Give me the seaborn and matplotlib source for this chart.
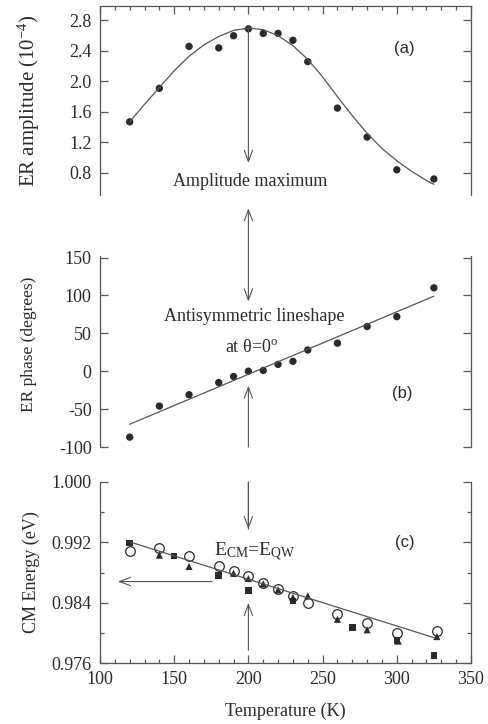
import matplotlib
matplotlib.use("Agg")
import matplotlib.pyplot as plt
from matplotlib.ticker import MultipleLocator
import seaborn as sns

# (a) ER amplitude (1e-4) vs temperature
temp_a = [120, 140, 160, 180, 190, 200, 210, 220, 230, 240, 260, 280, 300, 325]
amp = [1.47, 1.91, 2.46, 2.44, 2.60, 2.69, 2.63, 2.63, 2.54, 2.26, 1.65, 1.27, 0.84, 0.72]
fit_temp_a = [120, 130, 140, 150, 160, 170, 180, 190, 200, 210, 220, 230, 240, 250,
              260, 270, 280, 290, 300, 310, 320, 325]
fit_amp = [1.47, 1.70, 1.92, 2.14, 2.33, 2.48, 2.59, 2.67, 2.70, 2.68, 2.60, 2.47,
           2.29, 2.06, 1.80, 1.55, 1.32, 1.12, 0.96, 0.82, 0.70, 0.65]

# (b) ER phase (degrees)
temp_b = [120, 140, 160, 180, 190, 200, 210, 220, 230, 240, 260, 280, 300, 325]
phase = [-87, -46, -31, -15, -7, 0, 1, 9, 13, 28, 37, 59, 72, 110]
fit_temp_b = [120, 325]
fit_phase = [-70, 99]

# (c) CM energy (eV), three data sets
temp_sq = [120, 150, 180, 200, 230, 270, 300, 325]
energy_sq = [0.9919, 0.9902, 0.9876, 0.9856, 0.9842, 0.9807, 0.9790, 0.9770]
temp_circ = [120, 140, 160, 180, 190, 200, 210, 220, 230, 240, 260, 280, 300, 327]
energy_circ = [0.9908, 0.9913, 0.9902, 0.9889, 0.9882, 0.9875, 0.9866, 0.9858,
               0.9849, 0.9840, 0.9825, 0.9813, 0.9800, 0.9803]
temp_tri = [140, 160, 190, 200, 210, 220, 230, 240, 260, 280, 301, 327]
energy_tri = [0.9903, 0.9888, 0.9879, 0.9872, 0.9865, 0.9857, 0.9847, 0.9849,
              0.9818, 0.9804, 0.9789, 0.9795]
fit_temp_c = [121, 326]
fit_energy = [0.9920, 0.9793]

sns.set_style("ticks")
plt.rcParams['font.family'] = ['Liberation Serif', 'DejaVu Serif']
plt.rcParams['mathtext.fontset'] = 'custom'
plt.rcParams['mathtext.rm'] = 'Liberation Serif'
plt.rcParams['mathtext.it'] = 'Liberation Serif:italic'
plt.rcParams['axes.unicode_minus'] = False

ink = '#2a2a2a'
line_col = '#555555'
W, H = 489, 724

fig = plt.figure(figsize=(4.89, 7.24), dpi=100)


def add_panel(top, bottom):
    # pixel box -> figure fraction
    return fig.add_axes([100 / W, 1 - bottom / H, 371 / W, (bottom - top) / H])


ax_a = add_panel(6, 195)
ax_b = add_panel(256, 447)
ax_c = add_panel(482, 663)

for ax in (ax_a, ax_b, ax_c):
    ax.set_xlim(100, 350)
    ax.xaxis.set_major_locator(MultipleLocator(50))
    ax.xaxis.set_minor_locator(MultipleLocator(10))
    ax.tick_params(which='both', direction='in', left=True, right=True,
                   colors=line_col, labelcolor=ink, labelsize=13, width=0.9)
    ax.tick_params(which='major', length=5.5)
    ax.tick_params(which='minor', length=3)
    ax.tick_params(axis='y', pad=6)
    ax.tick_params(axis='x', pad=5.5)
    for s in ax.spines.values():
        s.set_color(line_col)
        s.set_linewidth(0.9)

# panel (a)
sns.lineplot(x=fit_temp_a, y=fit_amp, ax=ax_a, color=line_col, lw=0.9)
sns.scatterplot(x=temp_a, y=amp, ax=ax_a, color=ink, s=28, edgecolor='none')
ax_a.set_ylim(0.51, 2.99)
ax_a.yaxis.set_major_locator(MultipleLocator(0.4))
ax_a.spines['bottom'].set_visible(False)
ax_a.xaxis.set_ticks_position('top')
ax_a.tick_params(axis='x', which='both', labeltop=False, labelbottom=False)
ax_a.set_ylabel('ER amplitude (10$^{\\mathregular{-4}}$)', fontsize=15, color=ink)
ax_a.yaxis.set_label_coords(-0.157, 0.5)
ax_a.text(305, 2.43, '(a)', family='Liberation Sans', fontsize=12, color=ink,
          ha='center', va='center')
ax_a.text(201, 0.69, 'Amplitude maximum', fontsize=13, color=ink,
          ha='center', va='center')

# panel (b)
sns.lineplot(x=fit_temp_b, y=fit_phase, ax=ax_b, color=line_col, lw=0.9)
sns.scatterplot(x=temp_b, y=phase, ax=ax_b, color=ink, s=28, edgecolor='none')
ax_b.set_ylim(-100, 152)
ax_b.yaxis.set_major_locator(MultipleLocator(50))
ax_b.spines['top'].set_visible(False)
ax_b.spines['bottom'].set_visible(False)
ax_b.tick_params(axis='x', which='both', bottom=False, top=False, labelbottom=False)
ax_b.set_ylabel('ER phase (degrees)', fontsize=12.5, color=ink)
ax_b.yaxis.set_label_coords(-0.17, 0.54)
ax_b.text(304, -29, '(b)', family='Liberation Sans', fontsize=12, color=ink,
          ha='center', va='center')
ax_b.text(204, 72, 'Antisymmetric lineshape', fontsize=13, color=ink,
          ha='center', va='center')
ax_b.text(202, 31, 'at θ=0$^{\\mathregular{o}}$', fontsize=13, color=ink,
          ha='center', va='center')

# panel (c)
sns.lineplot(x=fit_temp_c, y=fit_energy, ax=ax_c, color=line_col, lw=0.9)
sns.scatterplot(x=temp_circ, y=energy_circ, ax=ax_c, marker='o', s=48,
                facecolor='white', edgecolor=ink, linewidth=0.9)
sns.scatterplot(x=temp_tri, y=energy_tri, ax=ax_c, marker='^', s=26,
                color=ink, edgecolor='none')
sns.scatterplot(x=temp_sq, y=energy_sq, ax=ax_c, marker='s', s=22,
                color=ink, edgecolor='none')
ax_c.set_ylim(0.976, 1.0)
ax_c.yaxis.set_major_locator(MultipleLocator(0.008))
ax_c.yaxis.set_minor_locator(MultipleLocator(0.004))
ax_c.yaxis.set_major_formatter(plt.FormatStrFormatter('%.3f'))
ax_c.spines['top'].set_visible(False)
ax_c.tick_params(axis='x', which='both', top=False, bottom=True)
ax_c.set_ylabel('CM Energy (eV)', fontsize=13, color=ink)
ax_c.yaxis.set_label_coords(-0.163, 0.5)
ax_c.set_xlabel('Temperature (K)', fontsize=13, color=ink, labelpad=11)
ax_c.text(305.5, 0.992, '(c)', family='Liberation Sans', fontsize=12, color=ink,
          ha='center', va='center')
ax_c.text(204, 0.9907, 'E$_{\\mathregular{CM}}$=E$_{\\mathregular{QW}}$',
          fontsize=14, color=ink, ha='center', va='center')

# arrows along T = 200 K
arrow = dict(arrowstyle='->,head_length=0.8,head_width=0.3', color=line_col,
             lw=0.8, shrinkA=0, shrinkB=0)
both = dict(arrow, arrowstyle='<->,head_length=0.8,head_width=0.3')
ax_a.annotate('', xy=(200, 0.93), xytext=(200, 2.69), arrowprops=arrow,
              annotation_clip=False)
ax_b.annotate('', xy=(200, 215), xytext=(200, 92), arrowprops=both,
              annotation_clip=False)
ax_c.annotate('', xy=(200, 0.99375), xytext=(200, 1.00),
              arrowprops=dict(arrow), annotation_clip=False)
ax_b.annotate('', xy=(200, -19), xytext=(200, -100), arrowprops=arrow,
              annotation_clip=False)
ax_c.annotate('', xy=(200, 1.0), xytext=(200, 0.99375),
              arrowprops=dict(arrow, arrowstyle='-'), annotation_clip=False)
ax_c.annotate('', xy=(200, 0.98398), xytext=(200, 0.97769), arrowprops=arrow,
              annotation_clip=False)
ax_c.annotate('', xy=(112, 0.9868), xytext=(175.5, 0.9868), arrowprops=arrow,
              annotation_clip=False)

fig.savefig('out.png', dpi=100)
